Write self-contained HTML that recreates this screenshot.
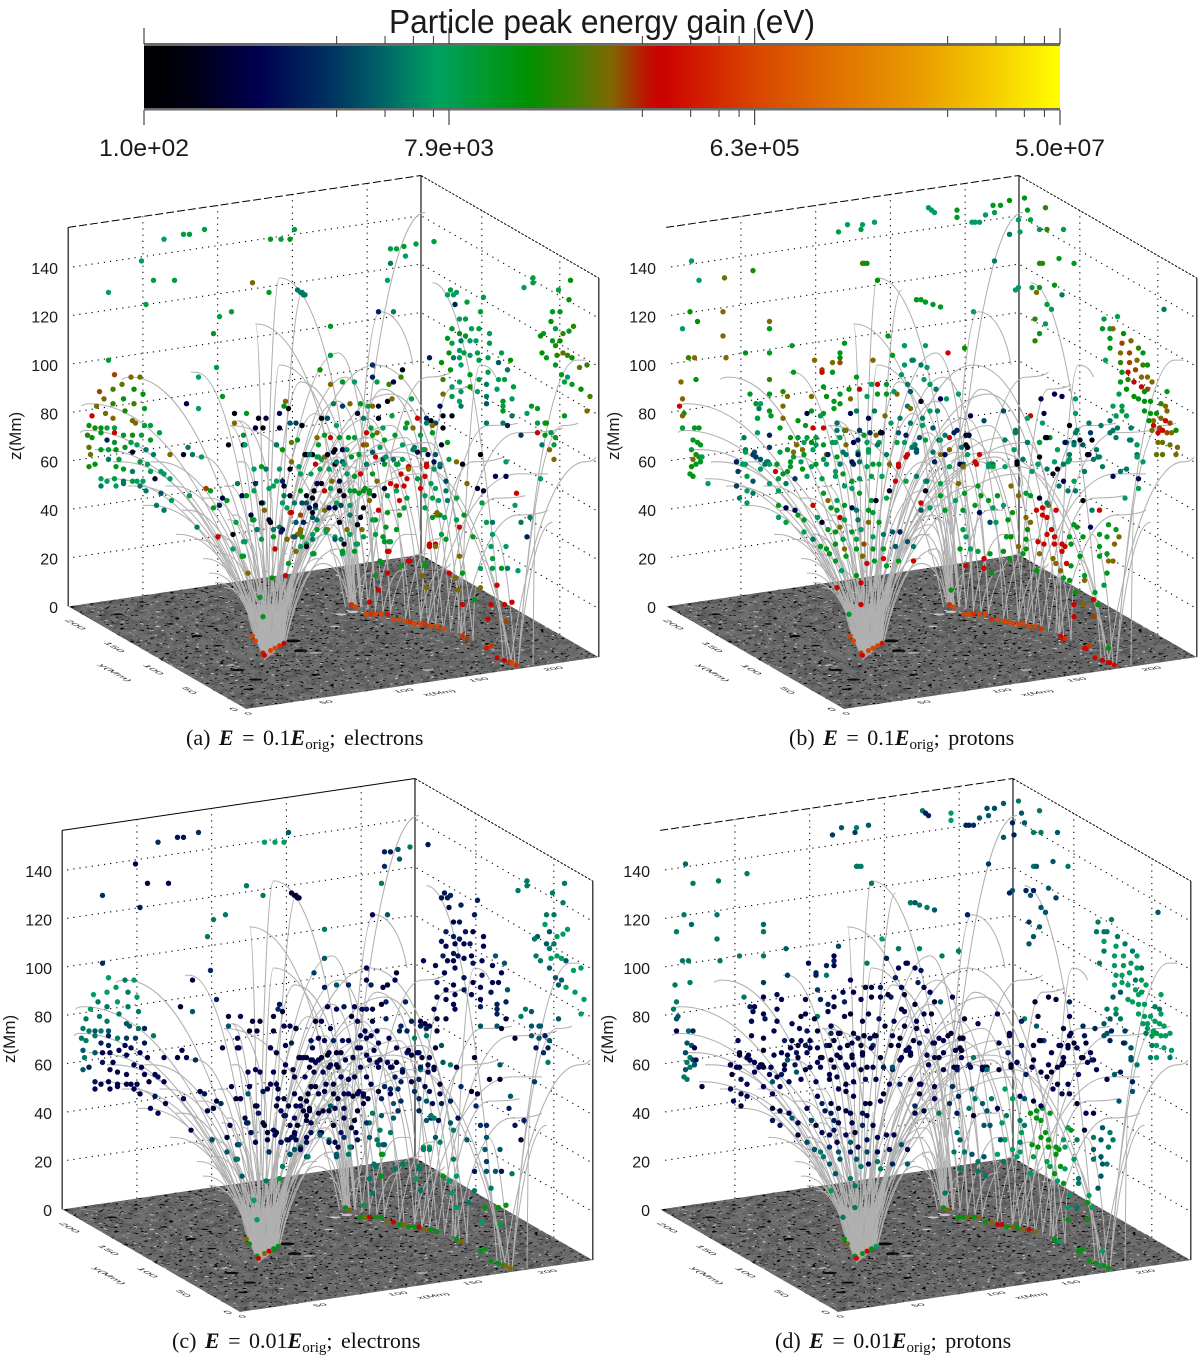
<!DOCTYPE html>
<html lang="en">
<head>
<meta charset="utf-8">
<title>Particle peak energy gain</title>
<style>
html,body{margin:0;padding:0;background:#fff;width:1200px;height:1357px;overflow:hidden}
svg{display:block}
text{font-family:"Liberation Sans",sans-serif;fill:#1a1a1a}
.cap{font-family:"Liberation Serif",serif;font-size:22px;word-spacing:3px;fill:#111}
</style>
</head>
<body>
<svg id="fig" xmlns="http://www.w3.org/2000/svg" width="1200" height="1357" viewBox="0 0 1200 1357">
<defs>
<linearGradient id="cmap" x1="0" x2="1" y1="0" y2="0"></linearGradient>
<filter id="darkSpeck" x="0" y="0" width="100%" height="100%"><feTurbulence type="fractalNoise" baseFrequency="0.2 0.6" numOctaves="2" seed="7"/><feColorMatrix type="matrix" values="0 0 0 0 0  0 0 0 0 0  0 0 0 0 0  14 0 0 0 -9.1"/></filter>
<filter id="lightSpeck" x="0" y="0" width="100%" height="100%"><feTurbulence type="fractalNoise" baseFrequency="0.2 0.6" numOctaves="2" seed="23"/><feColorMatrix type="matrix" values="0 0 0 0 .8  0 0 0 0 .8  0 0 0 0 .8  0 13 0 0 -9.2"/></filter>
<filter id="mottle" x="0" y="0" width="100%" height="100%"><feTurbulence type="fractalNoise" baseFrequency="0.09 0.2" numOctaves="3" seed="3"/><feColorMatrix type="matrix" values="0 0 0 0 0  0 0 0 0 0  0 0 0 0 0  0 0 1.6 0 -0.6"/></filter>
</defs>
<g id="colorbar">
<text x="389" y="33" font-size="33" textLength="426" lengthAdjust="spacingAndGlyphs">Particle peak energy gain (eV)</text>
<rect x="144" y="44" width="916" height="66" fill="url(#cmap)"/>
<rect x="144" y="43" width="916" height="3" fill="#6a6a6a"/>
<rect x="144" y="108" width="916" height="2.5" fill="#6a6a6a"/>
</g>
<g id="panels"></g>
<g>
<text class="cap" x="186" y="745">(a) <tspan font-weight="bold" font-style="italic">E</tspan> = 0.1<tspan font-weight="bold" font-style="italic">E</tspan><tspan font-size="15" dy="4">orig</tspan><tspan dy="-4">; electrons</tspan></text>
<text class="cap" x="789" y="745">(b) <tspan font-weight="bold" font-style="italic">E</tspan> = 0.1<tspan font-weight="bold" font-style="italic">E</tspan><tspan font-size="15" dy="4">orig</tspan><tspan dy="-4">; protons</tspan></text>
<text class="cap" x="172" y="1348">(c) <tspan font-weight="bold" font-style="italic">E</tspan> = 0.01<tspan font-weight="bold" font-style="italic">E</tspan><tspan font-size="15" dy="4">orig</tspan><tspan dy="-4">; electrons</tspan></text>
<text class="cap" x="775" y="1348">(d) <tspan font-weight="bold" font-style="italic">E</tspan> = 0.01<tspan font-weight="bold" font-style="italic">E</tspan><tspan font-size="15" dy="4">orig</tspan><tspan dy="-4">; protons</tspan></text>
</g>
</svg>
<script>
// ---------- tick values ----------
const zTicks=[0,20,40,60,80,100,120,140];
const xTicks=[0,50,100,150,200];
const yTicks=[50,100,150,200];
const xGridValues=[50,100,150,200];
const yGridValues=[50,150];
const colorbarMajor=[100,7900,630000,50000000];
const colorbarMajorLabels=["1.0e+02","7.9e+03","6.3e+05","5.0e+07"];
const colorbarMinorFractions=[0.2,0.4,0.6,0.8];
// energy scale: position along colormap (0..1) and colour
const cmapPositions=[0,0.05,0.125,0.2,0.25,0.32,0.37,0.42,0.47,0.51,0.55,0.565,0.66,0.75,0.84,0.92,1];
const cmapColors=["#000000","#000012","#000050","#003060","#005a68","#00a060","#009a30","#009000","#3f7f00","#806800","#c01000","#cc0000","#d84000","#e07000","#e89800","#f4c800","#ffff00"];
// ---------- field lines: footH, footZ, apexH, apexZ, endH, endZ (projected Mm) ----------
const archLoops=[[131,-20,170,48,190,1],[131,-20,172,60,192,1],[133,-19,175,72,195,1],[135,-18,180,85,205,0],[135,-18,185,95,215,-1],[138,-18,178,38,190,0],[141,-16,182,42,196,0],[141,-16,190,52,205,-2],[141,-16,195,64,215,-3],[141,-16,200,78,225,-4],[141,-16,210,60,235,-6],[133,-19,225,70,245,-8],[133,-19,235,55,255,-9],[131,-20,240,68,265,-12],[135,-18,215,88,262,-11],[131,-20,205,100,270,-13],[131,-20,180,105,205,0],[131,-20,141,136,195,0],[131,-20,125,117,190,0],[133,-19,141,100,195,1],[133,-19,155,93,200,1],[131,-20,108,75,185,0],[190,1,208,122,230,100],[128,30,113,77,135,45],[140,25,165,80,175,45],[150,20,180,62,190,30],[170,40,215,75,235,30],[185,20,210,90,238,50],[137,-17,172,30,188,1],[137,-17,176,34,189,0],[139,-17,185,46,200,-1],[143,-15,188,58,210,-2],[143,-15,205,50,228,-5],[136,-18,220,62,250,-9],[134,-18,200,70,240,-7],[145,-15,180,24,188,1],[145,-15,170,18,187,2]];
const leftFanLoops=[[131,-20,14,84,9,83],[131,-20,42,95,36,94],[131,-20,85,97,82,97],[131,-20,23,65,18,65],[131,-20,29,53,26,53],[133,-19,12,73,8,72],[131,-20,35,60,30,60],[131,-20,45,50,40,50],[131,-20,55,42,50,42],[135,-18,60,60,55,60],[133,-19,70,50,65,50],[131,-20,80,40,76,40],[131,-20,90,62,85,62],[135,-18,95,45,90,45],[131,-20,100,30,97,30],[131,-20,108,50,104,50],[133,-19,112,38,110,38],[135,-18,117,60,113,60],[133,-19,120,28,118,27],[133,-19,125,48,122,50],[133,-19,128,24,127,26],[135,-18,130,40,128,40],[137,-17,136,45,135,46],[139,-17,142,40,143,40],[141,-16,148,35,150,36],[141,-16,155,32,158,32],[143,-15,160,28,163,28],[134,-18,103,22,100,22],[136,-17,118,15,116,15],[138,-17,150,18,152,18],[140,-16,132,15,131,15],[142,-16,166,20,170,20],[129,-19,92,20,90,20],[127,-14,100,10,98,10],[125,-14,112,12,110,12],[144,-15,172,30,176,30],[131,-20,74,30,72,30],[132,-20,86,28,84,28],[130,-19,96,14,94,14],[133,-19,105,8,104,8],[135,-18,126,6,125,6],[137,-17,139,8,139,8],[132,-19,118,4,117,4],[139,-17,146,6,147,6],[136,-18,108,36,106,36],[134,-18,122,34,120,34],[138,-17,135,26,134,26],[140,-16,145,22,146,22],[128,-16,115,20,114,20],[126,-15,106,28,104,28]];
const rightFanLoops=[[300,-25,339,102,345,102],[300,-25,330,75,340,76],[295,-23,345,60,352,62],[310,-24,312,40,312,40],[296,-24,220,64,190,60],[296,-24,235,58,215,55],[240,-7,300,55,320,55],[245,-8,280,75,300,76],[235,-6,255,90,270,92],[250,-10,300,72,330,74],[240,-7,270,60,290,62],[255,-10,285,45,305,46],[262,-12,300,38,320,40],[262,-12,275,100,285,95],[188,1,238,163,238,163],[140,-16,157,131,157,131],[290,-21,243,134,243,134],[200,0,240,95,255,97],[195,0,215,40,225,40],[205,-1,225,30,232,30],[215,-2,235,22,240,22],[225,-5,245,28,250,30],[235,-6,250,16,255,18],[190,1,200,14,203,14],[210,-2,222,15,226,16],[298,-24,284,30,284,30],[293,-22,275,20,275,20],[300,-25,323,35,323,35],[260,-11,262,12,262,12],[270,-14,272,8,272,8],[189,1,172,42,168,44],[190,1,178,52,175,54],[191,1,183,36,181,38],[187,2,176,22,175,24],[192,0,186,25,185,26]];
// ---------- sunspots on the magnetogram: h, z, rx, ry, tone (0 dark, 1 light) ----------
const magnetogramSpots=[[150,-14,8,2.2,0],[155,-18,7,2,0],[86,-12,6,1.6,0],[33,-3,5,1.2,0],[113,-26,8,1.6,0],[68,-7,4,1.2,0],[100,-16,5,1.2,0],[125,-30,7,1.5,0],[165,-28,5,1.2,0],[200,-20,4,1,0],[240,-18,4,1,0],[120,-34,5,1.2,0],[95,-8,4,1,0],[165,-19,7,1,1],[108,-24,5,.9,1],[182,-3,6,1.4,1],[190,-2,6,1.8,1],[178,-8,5,1,1],[60,-8,3,.8,1],[150,-42,4,.8,1],[220,-34,5,.8,1],[240,-26,6,.8,1],[290,-14,4,.8,1],[60,-2,3,.7,1]];
// ---------- dense field-line bundle at the main footpoint: h, z ----------
const footBundleH=[131,122,118,146,144,137];
const footBundleZ=[-22,-9,1,1,-14,-19];
// ---------- footpoint particles: h, z, logE×10 in panels a, b, c, d ----------
const footpointParticles=[[123,-12,58,58,49,43],[125,-14,58,58,43,49],[130,-19,54,56,43,43],[131,-20,52,52,52,52],[135,-18,58,58,49,43],[138,-17,58,58,52,52],[141,-16,56,58,43,43],[144,-15,52,54,43,38],[189,1,56,56,43,43],[192,0,58,58,49,49],[199,-3,58,58,43,43],[202,-3,56,58,49,43],[205,-3,58,56,52,49],[209,-3,58,58,43,43],[213,-3,54,58,43,49],[217,-5,58,56,49,43],[221,-5,58,58,52,49],[225,-6,58,58,43,52],[228,-6,56,58,49,52],[231,-7,58,58,43,43],[235,-7,58,58,43,49],[238,-7,56,58,52,43],[242,-8,58,58,49,49],[246,-8,58,58,43,52],[250,-9,58,56,43,49],[263,-12,56,53,43,43],[266,-13,50,56,49,38],[279,-17,54,53,43,43],[282,-16,56,56,43,43],[286,-21,52,52,43,43],[291,-22,52,52,43,43],[295,-23,55,53,43,38],[299,-24,56,53,49,43],[296,-23,58,52,49,43]];
// ---------- electrons: h, z, logE×10 in panel a, logE×10 in panel c ----------
const electronsHigh=[[27,130,38,31],[49,143,38,27],[64,152,38,31],[77,154,40,29],[81,154,40,29],[91,156,40,31],[57,135,40,27],[71,135,40,27],[52,125,40,29],[27,102,41,31],[101,120,40,36],[109,122,40,36],[97,113,42,36],[99,99,40,31],[123,134,49,36],[134,130,42,36],[135,152,42,38],[142,152,40,38],[148,152,42,38],[151,156,40,34],[153,131,36,25],[155,130,36,25],[156,130,36,25],[157,129,36,25],[158,129,36,27],[87,95,38,27],[87,82,38,34],[79,84,26,25],[103,87,42,30],[215,148,40,30],[219,148,40,30],[224,149,41,34],[232,150,40,36],[244,151,40,29],[215,142,36,31],[225,145,38,34],[213,135,38,36],[207,122,30,27],[217,122,36,34],[175,116,42,36],[175,104,40,34],[168,98,44,32],[175,92,49,29],[183,93,42,34],[191,93,38,30],[203,95,30,27],[206,93,40,30],[214,92,46,27],[217,93,27,25],[222,95,46,27],[223,98,22,25],[203,100,31,27],[241,103,30,27]];
const electronsLeftLobe=[[31,96,50,38],[42,95,49,36],[48,95,48,38],[36,92,48,38],[21,89,50,38],[30,90,47,38],[44,90,44,36],[50,88,43,38],[24,86,49,36],[37,86,43,38],[19,83,49,38],[30,84,46,36],[25,80,48,36],[44,84,47,36],[51,82,42,36],[38,81,45,36],[16,79,52,36],[30,78,49,36],[43,77,48,34],[45,76,49,34],[51,75,40,36],[55,75,40,30],[61,72,40,36],[14,75,43,36],[18,74,45,36],[22,74,43,34],[26,74,40,36],[31,74,40,34],[13,71,45,36],[16,70,43,36],[22,72,42,36],[31,72,52,30],[37,71,42,36],[43,71,45,32],[49,71,40,32],[26,69,30,30],[31,68,42,30],[42,68,40,27],[55,69,42,29],[14,66,48,34],[22,65,42,34],[27,65,40,27],[32,65,43,27],[38,66,42,27],[46,67,38,27],[52,65,36,27],[68,63,49,27],[77,63,24,25],[80,66,36,27],[83,63,36,27],[89,62,38,31],[15,63,48,36],[27,61,36,29],[34,61,40,27],[43,64,24,27],[48,60,40,27],[57,63,36,27],[14,58,45,34],[18,59,43,30],[32,58,42,27],[37,57,42,27],[43,56,36,27],[53,59,38,27],[55,56,38,27],[62,56,38,27],[58,53,24,25],[64,55,38,29],[68,53,38,27],[22,50,36,27],[26,52,38,27],[31,53,40,27],[37,52,36,27],[43,52,40,27],[50,52,38,27],[22,53,38,29],[32,50,38,27],[37,51,36,27],[46,52,38,27],[48,50,36,27],[52,48,36,27],[59,42,36,27],[64,40,36,27],[62,47,34,29],[69,44,38,27]];
const electronsCore=[[111,80,23,25],[119,80,42,27],[127,78,23,25],[132,78,25,25],[125,74,26,25],[130,74,23,25],[141,74,24,25],[141,80,27,25],[147,82,22,25],[145,85,49,29],[144,83,43,31],[148,76,34,27],[156,75,23,25],[152,76,32,27],[111,76,49,34],[117,71,42,27],[107,67,23,25],[117,67,23,25],[139,67,36,25],[143,65,43,25],[149,68,48,27],[153,69,43,30],[158,63,23,25],[163,63,23,25],[167,62,40,29],[81,46,40,27],[86,33,36,27],[92,49,50,27],[97,41,42,27],[101,42,30,25],[100,29,52,33],[106,44,42,31],[110,30,23,25],[112,35,40,27],[117,27,38,31],[110,24,38,34],[116,21,42,34],[120,14,49,34],[126,32,40,29],[130,43,36,27],[135,35,23,25],[138,24,42,34],[145,13,52,40],[147,18,42,36],[152,23,38,34],[155,31,49,30],[159,26,40,34],[163,22,38,33],[141,33,36,27],[146,28,38,30],[150,29,49,30],[166,36,36,27],[172,32,40,31],[178,29,38,36],[166,51,26,25],[179,43,40,34],[159,43,34,27],[165,41,36,27],[148,39,50,29],[155,48,42,27],[137,50,38,27],[124,36,38,31],[113,51,36,27],[103,45,27,25],[95,48,42,29],[119,46,40,27],[143,52,30,27],[128,4,42,38],[130,-4,42,38],[136,12,44,36],[193,80,24,25],[197,78,36,27],[207,78,24,25],[216,79,40,30],[169,78,22,25],[173,78,33,27],[179,75,38,27],[156,75,23,25],[177,84,36,27],[183,83,32,27],[188,84,49,29],[195,84,42,27],[200,83,40,27],[203,83,49,29],[207,83,24,25],[213,85,23,25],[216,86,49,30],[229,86,40,30],[233,78,52,30],[239,78,30,27],[242,77,22,25],[248,83,28,27],[250,79,23,25],[256,79,22,25],[239,76,36,29],[245,76,33,27],[243,75,49,30],[250,74,23,25],[243,72,42,36],[235,71,40,36],[226,76,42,30],[230,74,49,30],[225,74,40,30],[218,71,42,27],[210,74,38,27],[206,72,49,27],[202,74,40,27],[199,72,52,27],[203,71,42,27],[191,70,40,27],[187,70,42,29],[181,70,42,30],[175,70,52,27],[166,70,49,29],[171,71,42,27],[167,67,42,27],[159,63,23,25],[169,61,38,27],[177,64,23,25],[183,65,26,25],[197,67,50,27],[203,64,34,27],[208,66,38,27],[211,69,42,27],[223,67,38,27],[230,65,36,29],[233,64,26,25],[238,65,49,30],[240,63,26,25],[245,63,34,27],[249,67,23,25],[253,68,42,34],[275,63,22,25],[263,59,22,25],[259,60,49,36],[254,61,40,34],[248,58,33,27],[239,58,52,36],[244,60,28,27],[227,58,52,31],[220,59,40,27],[217,61,36,27],[210,61,33,27],[205,62,52,27],[199,59,36,27],[189,62,42,27],[183,60,34,27],[178,59,23,25],[171,62,49,27],[165,59,52,27]];
const electronsCoreLower=[[139,67,36,27],[118,67,38,27],[124,57,38,27],[132,57,36,27],[129,58,42,27],[148,57,23,25],[139,52,38,27],[144,50,24,25],[134,49,38,29],[125,51,31,27],[124,48,38,34],[116,46,27,25],[119,46,42,27],[129,43,22,25],[131,40,49,29],[122,38,27,25],[123,36,42,30],[134,36,23,25],[137,32,36,25],[126,32,36,29],[143,32,27,25],[142,31,30,27],[137,29,42,27],[146,28,49,29],[138,24,52,31],[118,27,38,34],[117,21,42,36],[129,28,40,27],[144,46,36,27],[148,46,23,25],[143,43,38,25],[146,41,38,27],[149,39,52,29],[155,38,50,27],[151,43,36,25],[156,43,33,27],[159,46,23,25],[164,48,23,25],[163,45,23,25],[171,48,52,27],[175,49,38,27],[181,48,23,25],[184,46,23,25],[188,48,40,27],[194,47,42,25],[198,49,43,27],[201,47,42,29],[204,46,23,25],[161,41,27,25],[165,42,28,25],[171,40,49,27],[174,41,27,25],[178,41,27,25],[182,42,33,27],[188,42,38,27],[197,41,23,25],[201,44,49,27],[152,35,34,27],[157,35,30,25],[163,39,23,25],[163,37,34,25],[155,32,49,27],[153,30,49,29],[156,29,42,27],[166,32,42,29],[163,30,38,27],[173,32,49,27],[163,28,36,29],[159,25,23,25],[164,22,42,36],[155,25,38,34],[152,23,49,34],[151,29,34,27],[181,35,23,25],[186,32,49,29],[193,34,23,25],[196,32,49,27],[188,30,38,31],[178,28,34,29],[182,28,36,27],[184,26,23,25],[193,26,40,30],[197,29,40,29],[183,22,38,34],[188,38,36,27],[195,37,23,25],[205,36,43,36],[207,40,52,36],[213,39,42,34],[212,33,42,36],[219,32,42,36],[205,30,40,34],[211,27,42,36],[215,27,40,34],[214,23,52,40],[221,38,42,34],[224,41,40,31],[238,41,40,30],[243,37,42,34],[246,38,49,31],[251,37,38,29],[249,30,40,34],[241,26,52,40],[245,26,52,38],[238,17,42,36],[228,19,52,40],[222,17,42,36],[209,18,42,36],[162,55,38,27],[166,51,27,25],[169,51,23,25],[176,52,49,27],[181,52,27,25],[186,55,38,27],[191,54,42,27],[195,55,52,27],[203,55,42,27],[206,52,49,27],[191,48,42,27],[197,48,43,27],[201,48,42,27],[211,49,23,25],[215,51,52,30],[219,50,52,30],[224,50,52,31],[226,53,52,30],[222,55,52,29],[227,57,49,27],[233,53,40,27],[238,54,52,30],[235,49,52,31],[242,51,40,27],[245,49,38,29],[252,48,36,27],[252,52,33,25],[213,46,40,30],[219,48,38,27],[221,44,52,34],[226,45,40,31],[238,46,38,31],[247,44,38,27],[253,44,36,30],[244,57,38,27],[239,59,52,30],[248,59,36,25],[211,59,42,27],[212,62,38,25],[219,59,40,27],[223,61,38,25],[231,66,36,27],[237,65,38,27],[194,63,42,25],[199,67,49,27],[186,65,38,25],[178,65,23,25],[179,60,36,27],[184,59,38,25],[174,57,38,27],[168,57,40,25],[166,62,40,27],[173,63,23,25],[158,63,23,25],[161,63,36,27],[154,58,38,25],[155,55,38,27],[149,60,49,27],[141,57,38,27]];
const electronsRightLobe=[[253,129,38,29],[255,131,40,29],[257,129,38,30],[259,130,38,30],[277,128,40,30],[258,125,30,27],[266,126,40,30],[275,122,40,30],[261,119,38,27],[265,119,40,29],[256,115,42,30],[269,115,38,29],[274,115,40,27],[261,113,43,30],[265,112,42,30],[281,113,38,27],[253,111,42,29],[256,109,40,27],[262,110,36,27],[268,110,38,27],[272,110,38,30],[281,109,40,27],[261,106,38,29],[264,105,40,29],[273,105,40,27],[254,105,43,30],[257,103,36,27],[261,103,38,27],[268,104,38,27],[280,103,40,27],[289,105,40,34],[249,101,44,27],[255,98,43,27],[262,100,38,27],[274,102,40,29],[287,101,34,27],[295,102,44,34],[268,96,42,29],[280,97,40,29],[293,98,36,27],[250,94,46,29],[261,93,38,27],[274,94,40,27],[287,94,38,27],[256,91,38,27],[268,91,44,29],[279,92,36,27],[286,90,38,29],[291,94,40,27],[297,91,40,34],[250,88,49,27],[262,89,38,27],[273,89,38,27],[279,87,36,27],[290,85,42,30],[256,87,40,27],[261,85,38,27],[262,83,36,27],[290,83,40,30],[296,86,38,30],[290,81,42,30],[279,84,34,30],[296,79,36,27],[290,76,36,34],[279,76,36,34],[306,80,38,36],[309,83,42,36],[313,82,42,34],[293,75,30,25],[302,71,32,25],[313,72,52,34],[313,76,40,34],[318,76,42,34],[319,76,43,34],[318,71,42,34],[322,72,40,30],[325,70,42,34],[316,67,36,29],[321,65,49,31],[324,67,40,30],[324,61,49,36],[292,60,38,34]];
const electronsFarRight=[[304,132,38,36],[310,136,40,36],[310,134,40,36],[335,135,44,36],[327,131,40,36],[334,127,44,36],[323,122,42,36],[328,122,42,36],[322,118,44,38],[337,116,46,38],[334,114,42,38],[325,115,40,34],[317,113,42,34],[315,112,44,36],[330,113,46,38],[323,110,42,34],[328,110,44,36],[325,108,46,36],[316,105,44,36],[319,103,42,36],[326,104,46,38],[330,105,48,38],[333,104,46,38],[336,103,44,34],[325,100,42,34],[346,100,46,38],[341,99,48,38],[329,96,42,34],[333,95,38,34],[331,93,40,34],[336,92,42,38],[342,90,44,38],[348,87,47,38],[331,79,42,34],[346,81,49,38]];
const electronsLower=[[299,47,52,34],[285,54,26,25],[292,54,27,25],[315,53,38,32],[276,43,40,31],[298,42,38,30],[302,35,36,29],[308,37,36,30],[306,29,30,25],[279,35,40,31],[283,35,36,31],[283,30,38,34],[282,25,38,34],[292,25,38,34],[283,20,40,32],[275,16,38,29],[283,16,40,34],[289,16,42,34],[293,16,36,29],[300,15,38,36],[270,29,42,34],[264,38,42,29],[259,36,40,34],[261,33,52,36],[248,38,43,36],[252,28,42,36],[241,25,52,36],[245,25,49,36],[243,45,40,34],[246,39,49,36],[266,51,49,31],[273,49,24,25],[277,48,26,25],[259,45,40,30],[261,21,49,36],[254,14,52,43],[258,12,49,38],[263,14,42,38],[260,7,49,38],[275,8,49,36],[286,9,52,36],[271,3,42,36],[282,1,52,43],[291,1,52,43],[296,2,52,43],[263,1,52,38],[280,-5,52,38],[292,-6,50,40],[213,23,52,43],[208,19,42,36],[238,18,42,36],[227,19,52,36],[213,14,52,43],[205,13,42,36],[207,7,52,36],[201,2,52,40],[236,13,49,38],[239,8,49,36],[183,23,42,34],[191,23,42,36],[192,26,38,36],[172,31,38,34],[203,36,40,31],[210,29,42,36],[214,27,40,34]];
// ---------- protons: h, z, logE×10 in panel b, logE×10 in panel d ----------
const protonsHigh=[[17,143,39,35],[22,135,38,36],[39,136,48,36],[58,139,45,36],[115,155,40,32],[121,158,38,34],[130,156,40,32],[131,158,38,36],[139,159,38,34],[131,142,46,36],[132,142,46,36],[134,142,43,36],[141,135,44,36],[16,122,44,36],[38,122,49,36],[21,118,44,35],[11,115,38,36],[38,112,49,36],[69,118,49,35],[69,115,42,36],[15,103,46,36],[19,103,49,36],[40,103,49,36],[53,105,43,36],[69,105,42,36],[84,108,42,34],[119,109,42,33],[148,112,42,38],[159,108,38,36],[167,127,38,34],[175,165,39,36],[177,164,38,30],[179,163,38,30],[194,164,42,38],[194,161,42,38],[204,159,38,30],[206,159,38,30],[209,159,38,31],[213,162,38,34],[219,163,40,34],[218,166,42,33],[223,166,42,33],[229,168,44,34],[239,169,43,36],[253,165,46,36],[241,164,42,34],[243,160,40,34],[249,156,40,36],[254,156,46,36],[265,156,40,34],[235,160,38,30],[236,155,38,30],[229,154,36,34],[219,143,36,32],[249,142,46,36],[251,142,46,34],[262,144,42,34],[272,142,42,36],[235,132,38,34],[233,131,38,30],[244,132,40,30],[249,132,42,30],[247,130,49,34],[259,133,43,34],[264,129,36,32],[254,125,40,34],[257,123,38,34],[246,119,46,31],[253,117,38,34],[249,113,42,34],[246,110,46,34],[205,122,38,30],[199,107,44,36],[188,105,52,36],[183,124,42,34],[178,125,42,36],[173,126,42,36],[170,127,42,34],[167,127,42,36],[173,108,38,36],[159,108,38,36],[332,123,36,34],[99,102,49,27],[111,101,49,30],[116,101,50,27],[116,103,44,30],[116,105,42,27],[104,98,50,30],[104,97,52,30],[111,97,42,36],[138,102,49,36],[151,104,42,30],[165,102,38,29],[157,96,38,30],[159,100,38,27],[127,95,42,27],[85,97,42,32]];
const protonsLeftColumn=[[10,93,49,36],[20,94,43,36],[11,86,49,36],[9,83,52,36],[12,80,43,34],[11,79,49,34],[11,74,40,27],[19,74,42,35],[22,74,42,30],[18,69,42,34],[21,68,42,34],[23,67,42,27],[17,65,40,33],[20,63,46,36],[22,62,42,33],[18,61,49,36],[23,60,42,34],[17,58,44,34],[20,59,42,36],[16,55,42,36],[18,54,43,36],[24,62,40,29],[28,51,38,25]];
const protonsLeftCore=[[56,88,42,36],[69,94,46,32],[69,88,42,27],[78,89,46,28],[81,87,49,27],[60,84,42,30],[63,84,38,27],[62,82,36,27],[69,81,42,27],[78,83,49,27],[61,78,38,25],[61,78,40,28],[70,79,42,29],[78,78,49,27],[52,70,36,27],[53,65,36,27],[59,64,34,27],[69,66,32,25],[76,64,40,27],[85,64,49,27],[47,60,34,25],[53,59,38,27],[67,60,38,27],[74,59,42,27],[83,58,42,27],[47,60,30,27],[53,64,40,25],[51,59,38,27],[48,56,32,25],[47,50,32,27],[58,63,32,27],[60,62,32,27],[63,61,34,27],[68,60,36,25],[66,59,36,27],[54,54,40,29],[58,52,34,27],[54,48,38,27],[49,45,36,27],[54,43,38,25],[58,47,36,27],[69,51,38,27],[75,48,40,27],[80,51,36,27],[75,42,42,25],[80,41,27,25],[86,40,28,27],[88,38,42,34],[75,37,38,29],[80,35,40,29],[92,36,42,27],[92,31,38,25],[98,28,36,33],[103,25,42,30],[109,22,43,36],[113,19,42,34],[117,15,38,34],[127,13,43,36],[114,8,52,40],[130,10,52,36],[130,1,52,36],[122,-3,42,36],[63,57,38,27],[69,59,38,25],[73,56,52,27],[75,53,40,34],[78,55,42,27],[81,56,42,29],[83,60,42,25],[86,53,32,27],[91,57,43,34],[94,54,38,27],[97,58,38,25],[100,59,42,29],[105,61,40,27],[81,65,42,27],[85,62,40,34],[90,60,38,29],[87,67,49,27],[91,65,49,29],[97,68,44,30],[94,70,40,27],[88,70,42,25],[98,65,38,27],[105,67,42,27],[107,63,49,25],[111,68,40,31],[116,70,38,25],[119,73,38,27],[125,68,26,25],[132,71,42,29],[136,72,40,27],[140,71,49,29],[144,72,26,27],[142,68,38,31],[135,65,40,25],[128,64,38,27],[120,63,36,25],[114,62,42,25],[124,60,29,25],[129,60,36,27],[138,59,42,25],[142,59,40,27],[149,59,49,30],[155,58,52,30],[160,62,40,25],[167,64,38,27],[159,68,38,25],[166,67,36,27],[173,69,40,29]];
const protonsMidCore=[[104,53,40,27],[113,56,38,27],[118,55,42,27],[124,52,42,25],[129,53,38,27],[137,54,40,29],[144,54,38,27],[149,48,24,25],[153,52,52,27],[160,52,40,29],[167,54,36,25],[173,52,38,27],[129,47,42,27],[124,49,38,25],[119,50,38,27],[113,54,38,25],[105,47,42,27],[108,44,49,30],[114,44,38,27],[98,42,52,27],[110,41,42,29],[119,42,42,25],[124,41,28,25],[127,40,36,27],[137,44,42,27],[140,44,24,25],[147,45,40,27],[135,40,42,29],[138,39,40,27],[142,35,42,25],[135,35,49,31],[128,36,36,27],[114,40,42,29],[116,37,52,30],[119,36,40,27],[101,37,38,33],[104,35,24,25],[108,32,42,27],[113,31,43,27],[116,33,49,29],[124,31,42,27],[130,32,38,25],[127,28,40,34],[138,29,38,29],[132,26,50,27],[145,30,36,27],[151,31,34,27],[156,31,30,27],[161,27,34,34],[165,25,36,27],[113,26,43,31],[107,24,43,36],[103,25,42,34],[118,28,40,27],[119,24,49,34],[127,24,42,29],[138,24,42,33],[145,24,42,27],[153,25,34,29],[165,19,52,34],[155,19,42,30],[145,20,52,36],[139,19,42,27],[131,21,49,34],[134,18,52,36],[120,21,42,34],[147,17,42,36],[105,91,42,32],[116,88,42,27],[122,90,43,27],[129,90,52,27],[137,92,38,25],[141,92,52,27],[147,92,42,30],[154,88,49,30],[97,87,49,27],[107,87,44,30],[112,85,42,30],[116,84,42,25],[123,86,49,30],[134,87,38,27],[141,88,42,25],[147,88,42,27],[152,89,38,25],[161,83,36,25],[112,82,42,27],[105,80,42,36],[97,81,42,27],[88,77,43,27],[94,80,25,25],[103,79,40,25],[114,76,36,27],[123,80,28,25],[127,81,36,25],[135,78,28,25],[139,81,36,27],[146,79,49,29],[156,78,36,27],[163,76,36,25],[93,75,42,27],[98,74,52,29],[105,74,52,25],[114,73,36,31],[120,73,49,25],[129,73,32,27],[136,72,30,25],[143,72,23,25],[150,76,38,25],[155,72,34,27],[76,74,42,27],[83,70,44,30],[69,71,30,25],[61,72,38,27],[92,68,38,25],[100,70,40,27],[113,68,38,25],[120,67,49,27],[128,69,30,27],[134,68,38,25],[141,67,36,27],[154,68,40,25],[164,66,36,27],[92,63,42,25],[100,67,38,27],[108,63,30,25],[118,64,36,27],[128,63,29,25],[135,64,38,27],[147,63,36,25],[155,59,52,34],[161,63,52,27],[167,64,34,25],[107,59,38,27],[116,59,36,25],[125,59,30,27],[134,58,38,25]];
const protonsRightCore=[[259,88,27,25],[264,87,27,25],[273,86,38,30],[273,80,38,27],[250,86,27,25],[252,80,26,25],[243,79,52,36],[241,78,38,30],[251,76,38,34],[269,75,23,25],[274,73,36,27],[253,70,23,25],[256,70,42,33],[249,68,49,34],[267,68,36,27],[272,68,34,25],[276,69,23,25],[278,67,34,27],[261,65,38,27],[249,62,23,25],[269,63,36,27],[282,63,23,25],[287,65,36,27],[289,62,38,27],[259,60,38,27],[268,60,38,25],[248,59,34,27],[234,59,23,25],[238,61,34,27],[232,65,38,29],[226,69,36,27],[241,68,40,29],[233,73,36,27],[225,81,33,27],[212,77,33,27],[203,79,27,25],[195,88,38,27],[187,86,38,34],[183,86,27,25],[180,90,36,27],[176,92,38,27],[172,94,38,30],[170,100,36,27],[174,99,38,29],[164,102,36,27],[163,89,34,25],[161,92,36,27],[170,85,23,25],[163,82,49,27],[181,81,36,25],[176,81,38,27],[171,78,36,27],[171,75,38,25],[178,74,34,27],[194,73,30,25],[186,71,36,27],[182,69,34,27],[200,71,23,25],[202,71,23,25],[189,70,52,27],[192,72,30,25],[200,67,23,25],[197,66,36,27],[201,66,34,27],[189,65,49,27],[209,63,52,36],[201,63,38,27],[183,63,49,25],[186,63,28,25],[178,64,36,27],[169,70,34,25],[166,67,36,27],[160,71,30,25],[167,65,34,27],[160,62,52,27],[206,60,52,31],[198,59,34,27],[215,59,38,27],[218,59,36,25],[226,58,38,25],[207,59,52,27],[215,58,38,27],[218,58,40,36],[201,66,23,25],[202,71,26,25],[183,69,38,27],[179,60,30,27],[173,48,23,25],[170,43,52,31],[174,52,36,27],[183,51,40,27],[196,59,27,25],[189,58,38,27],[198,58,49,29],[195,51,49,31],[199,47,42,30],[183,46,42,27],[193,44,38,31],[208,50,42,34],[206,42,42,36],[210,46,43,36],[215,44,42,34],[221,46,43,36],[209,39,27,25],[198,40,42,29],[218,41,38,34],[225,42,38,27],[186,40,42,36],[176,41,38,25],[170,40,34,27],[216,35,33,34],[220,35,38,34],[198,32,40,36],[200,29,38,34],[228,36,43,38],[231,39,43,36],[196,24,43,36],[203,24,38,36],[208,23,40,34],[216,22,43,34],[225,23,43,38],[230,29,44,38],[227,29,42,34],[229,20,43,36],[212,20,52,36],[200,17,52,36],[212,16,52,36],[217,14,43,36],[190,7,43,36]];
const protonsRedPatch=[[235,46,49,38],[230,50,49,38],[240,47,40,27],[243,46,42,34],[240,37,49,36],[243,35,49,36],[241,32,44,38],[240,28,43,36],[235,25,49,38],[240,24,43,38],[238,22,42,38],[247,40,52,43],[251,38,52,43],[254,37,52,43],[251,41,52,43],[255,42,49,38],[260,40,52,43],[249,45,24,25],[257,32,52,43],[254,30,52,43],[248,27,52,43],[252,26,52,43],[259,29,52,43],[259,26,52,43],[264,26,52,43],[266,25,52,43],[249,22,49,40],[258,20,49,40],[264,23,52,43],[260,18,49,40],[267,18,52,43],[247,15,43,38],[263,15,49,43],[270,17,43,38],[279,13,42,36],[265,12,42,38],[269,11,43,43],[279,11,49,36],[273,6,43,38],[286,6,42,38],[272,1,52,38],[278,1,49,36],[288,1,43,38],[285,3,52,43],[272,-4,52,43],[285,-4,50,43],[265,-13,52,43],[280,-17,52,43],[295,-17,44,38],[272,34,42,38],[274,33,43,43],[278,29,43,36],[276,21,43,38],[269,29,42,38],[270,26,43,38]];
const protonsRightLobe=[[296,115,40,36],[301,120,39,36],[292,119,40,36],[291,115,42,36],[298,115,49,36],[305,113,44,36],[310,110,49,36],[296,111,42,38],[304,109,50,38],[296,107,43,36],[315,107,46,36],[318,105,42,38],[303,105,49,38],[309,105,50,38],[293,102,38,36],[303,101,46,38],[309,101,50,40],[314,102,49,38],[318,100,46,38],[321,100,43,36],[304,97,43,38],[308,97,52,38],[313,98,50,38],[317,95,49,36],[321,95,49,40],[324,93,49,38],[303,93,42,38],[308,94,45,38],[312,93,52,38],[317,91,52,38],[321,90,50,40],[319,89,44,38],[334,89,42,38],[307,90,44,34],[302,88,40,34],[312,87,44,38],[315,86,43,38],[319,85,43,38],[323,85,43,38],[330,84,46,36],[333,83,49,36],[298,83,38,36],[304,83,40,38],[319,81,43,38],[323,80,43,38],[327,80,43,38],[334,81,49,38],[304,81,40,36],[307,79,40,36],[300,79,40,34],[322,77,44,38],[325,77,49,38],[330,78,49,38],[333,77,52,38],[336,76,50,38],[325,75,52,38],[329,74,50,38],[331,73,52,40],[328,72,52,40],[334,72,50,38],[337,72,49,38],[340,73,44,38],[324,73,49,36],[296,77,36,34],[301,74,36,30],[310,74,36,32],[290,75,36,30],[282,76,36,31],[298,73,36,34],[296,72,36,34],[283,72,32,29],[328,68,49,36],[331,68,48,38],[336,67,48,38],[341,66,49,38],[327,63,48,36],[331,63,48,38],[340,63,49,36],[314,67,36,34],[314,63,36,34],[310,69,36,34],[300,70,36,30],[295,34,42,34],[300,32,42,36],[302,29,49,36],[289,30,42,36],[294,29,42,34],[299,26,49,36],[289,25,42,34],[294,22,42,34],[289,21,42,36],[295,19,49,34],[298,19,49,36],[294,14,42,34],[292,9,40,34],[289,40,52,27],[284,40,36,27],[283,33,28,25],[306,45,38,34],[315,49,38,34],[315,53,28,30],[303,56,36,34],[298,54,28,27],[307,57,36,30],[314,62,38,34],[318,60,38,36],[309,69,36,30],[314,67,38,34],[285,61,36,27],[291,58,36,27],[279,56,36,27],[272,52,38,27],[265,52,27,25],[262,50,36,27],[258,55,23,25],[254,57,36,25],[248,59,38,27],[265,59,36,27],[269,61,38,27],[249,68,40,27],[261,57,23,25],[254,70,23,25],[266,68,28,27],[272,67,36,27],[273,72,36,27],[284,69,23,25],[281,63,24,25],[288,62,36,29],[278,44,23,25],[273,48,36,27],[268,48,36,27],[254,43,36,27],[238,61,36,27],[244,56,38,30],[241,68,36,27],[234,60,23,25],[233,72,36,27]];
// ---------- panel layout ----------
const electronSets=[electronsHigh,electronsLeftLobe,electronsCore,electronsCoreLower,electronsRightLobe,electronsFarRight,electronsLower];
const protonSets=[protonsHigh,protonsLeftColumn,protonsLeftCore,protonsMidCore,protonsRightCore,protonsRedPatch,protonsRightLobe];
const panels=[
 {id:"a",dx:0,dy:0,axis:true,sets:electronSets,ei:2,fi:2},
 {id:"b",dx:598,dy:0,axis:false,sets:protonSets,ei:2,fi:3},
 {id:"c",dx:-6,dy:603,axis:true,sets:electronSets,ei:3,fi:4},
 {id:"d",dx:592,dy:603,axis:false,sets:protonSets,ei:3,fi:5}
];
const NS="http://www.w3.org/2000/svg";
const X_MAX=236,Y_MAX=228,Z_MAX=156.6;
function mk(tag,attrs,parent){const e=document.createElementNS(NS,tag);for(const k in attrs)e.setAttribute(k,attrs[k]);if(parent)parent.appendChild(e);return e;}
// colour axis
const LOG_MIN=2,LOG_MAX=Math.log10(5e7);
function colorFrac(logE){return Math.max(0,Math.min(1,(logE-LOG_MIN)/(LOG_MAX-LOG_MIN)));}
function hexToRgb(h){return [parseInt(h.slice(1,3),16),parseInt(h.slice(3,5),16),parseInt(h.slice(5,7),16)];}
function energyColor(logE){const f=colorFrac(logE);let i=0;while(i<cmapPositions.length-2&&f>cmapPositions[i+1])i++;const t=(f-cmapPositions[i])/(cmapPositions[i+1]-cmapPositions[i]);const a=hexToRgb(cmapColors[i]),b=hexToRgb(cmapColors[i+1]);return "rgb("+a.map((v,k)=>Math.round(v+(b[k]-v)*t)).join(",")+")";}
// colourbar
const grad=document.getElementById("cmap");
cmapPositions.forEach((p,i)=>{mk("stop",{offset:p,"stop-color":cmapColors[i]},grad);});
function barX(v){return 144+916*colorFrac(Math.log10(v));}
const bar=document.getElementById("colorbar");
colorbarMajor.forEach((v,i)=>{
 const x=barX(v);
 const t1=mk("line",{x1:x,x2:x,y1:28,y2:44,stroke:"#222","stroke-width":1},bar);
 
 
 const t2=mk("line",{x1:x,x2:x,y1:110,y2:125,stroke:"#222","stroke-width":1},bar);
 
 
 const lab=mk("text",{x:x-45,y:156,"font-size":24,textLength:90,lengthAdjust:"spacingAndGlyphs"},bar);
 lab.textContent=colorbarMajorLabels[i];
 
 
 if(i>0)colorbarMinorFractions.forEach(fr=>{
  const mx=barX(v*fr);
  const m1=mk("line",{x1:mx,x2:mx,y1:36,y2:44,stroke:"#333","stroke-width":1},bar);
  
  
  const m2=mk("line",{x1:mx,x2:mx,y1:110,y2:117,stroke:"#333","stroke-width":1},bar);
  
  
 });
});
// 3-D axis functions (panel-local pixels)
function fx(x,y){return 246+1.495*x-0.78*y;}
function fy(x,y,z){return 709-0.22*x-0.45*y-2.42*z;}
// projected-plane axis functions
function sx(h){return 68+1.5*h;}
function sy(z){return 607-2.42*z;}
function loopPath(l){
 const [fh,fz,ah,az,eh,ez]=l;
 const dh=ah-fh,dz=az-fz;
 let d="M"+sx(fh)+" "+sy(fz)+"C"+sx(fh+.2*dh)+" "+sy(fz+.5*dz)+" "+sx(ah-.45*dh)+" "+sy(az)+" "+sx(ah)+" "+sy(az);
 if(eh!==ah||ez!==az){const g=eh-ah;d+="C"+sx(ah+.5*g)+" "+sy(az)+" "+sx(eh-.15*g)+" "+sy(ez+.55*(az-ez))+" "+sx(eh)+" "+sy(ez);}
 return d;
}
const root=document.getElementById("panels");
panels.forEach(p=>{
 const g=mk("g",{transform:"translate("+p.dx+" "+p.dy+")"},root);
 
 
 const grid={stroke:"#000","stroke-width":1.1,"stroke-dasharray":"1.2 5",fill:"none"};
 // walls grid
 zTicks.slice(1).forEach(z=>{
  const a=mk("path",Object.assign({d:"M"+(fx(0,Y_MAX)+5)+" "+(fy(0,Y_MAX,z)-0.7)+"L"+fx(X_MAX,Y_MAX)+" "+fy(X_MAX,Y_MAX,z)+"L"+fx(X_MAX,0)+" "+fy(X_MAX,0,z)},grid),g);
  
  
 });
 xGridValues.forEach(x=>{
  const a=mk("line",Object.assign({x1:fx(x,Y_MAX),x2:fx(x,Y_MAX),y1:fy(x,Y_MAX,0),y2:fy(x,Y_MAX,Z_MAX)},grid),g);
  
  
 });
 yGridValues.forEach(y=>{
  const a=mk("line",Object.assign({x1:fx(X_MAX,y),x2:fx(X_MAX,y),y1:fy(X_MAX,y,0),y2:fy(X_MAX,y,Z_MAX)},grid),g);
  
  
 });
 // box edges
 const topL=mk("line",{x1:fx(0,Y_MAX),y1:fy(0,Y_MAX,Z_MAX),x2:fx(X_MAX,Y_MAX),y2:fy(X_MAX,Y_MAX,Z_MAX),stroke:"#000","stroke-width":1,"stroke-dasharray":p.axis&&p.id==="c"?"none":"8 3"},g);
 
 
 const topR=mk("line",{x1:fx(X_MAX,Y_MAX),y1:fy(X_MAX,Y_MAX,Z_MAX),x2:fx(X_MAX,0),y2:fy(X_MAX,0,Z_MAX),stroke:"#000","stroke-width":1,"stroke-dasharray":"2.5 1.5"},g);
 
 
 const back=mk("line",{x1:fx(X_MAX,Y_MAX),y1:fy(X_MAX,Y_MAX,0),x2:fx(X_MAX,Y_MAX),y2:fy(X_MAX,Y_MAX,Z_MAX),stroke:"#000","stroke-width":1.1},g);
 
 
 const right=mk("line",{x1:fx(X_MAX,0),y1:fy(X_MAX,0,0),x2:fx(X_MAX,0),y2:fy(X_MAX,0,Z_MAX),stroke:"#000","stroke-width":1.1},g);
 
 
 if(p.axis){
  const ax=mk("line",{x1:fx(0,Y_MAX),y1:fy(0,Y_MAX,0),x2:fx(0,Y_MAX),y2:fy(0,Y_MAX,Z_MAX),stroke:"#000","stroke-width":1.1},g);
  
  
 }
 // floor
 const pts=[[0,0],[X_MAX,0],[X_MAX,Y_MAX],[0,Y_MAX]].map(c=>fx(c[0],c[1])+","+fy(c[0],c[1],0)).join(" ");
 const cp=mk("clipPath",{id:"floorClip"+p.id},g);
 mk("polygon",{points:pts},cp);
 const floor=mk("g",{"clip-path":"url(#floorClip"+p.id+")"},g);
 
 
 mk("polygon",{points:pts,fill:"#707070"},floor);
 mk("rect",{x:60,y:550,width:550,height:170,filter:"url(#mottle)",opacity:.35},floor);
 mk("rect",{x:60,y:550,width:550,height:170,filter:"url(#darkSpeck)"},floor);
 mk("rect",{x:60,y:550,width:550,height:170,filter:"url(#lightSpeck)",opacity:.8},floor);
 magnetogramSpots.forEach(s=>{
  const e=mk("ellipse",{cx:sx(s[0]),cy:sy(s[1]),rx:s[2]*0.95,ry:s[3]*0.7,fill:s[4]?"#c8c8c8":"#0b0b0b"},floor);
  
  
 });
 // z labels
 zTicks.forEach(z=>{
  const t=mk("text",{x:58,y:fy(0,Y_MAX,z)+6.5,"font-size":16,"text-anchor":"end"},g);
  t.textContent=z;
  
  
 });
 const zt=mk("text",{transform:"translate(21 460) rotate(-90)","font-size":17},g);
 zt.textContent="z(Mm)";
 
 
 // floor labels
 const xm=(e,f)=>"matrix(.85 -.125 .42 .24 "+e+" "+f+")";
 xTicks.forEach(x=>{
  const t=mk("text",{transform:xm(fx(x,0)+1,fy(x,0,0)+6),"font-size":13,fill:"#333"},g);
  t.textContent=x;
  
  
 });
 const xt=mk("text",{transform:xm(fx(122,0)-3,fy(122,0,0)+14),"font-size":13},g);
 xt.textContent="x(Mm)";
 
 
 const ym=(e,f)=>"matrix(.8 .46 -.62 .09 "+e+" "+f+")";
 const y0=mk("text",{transform:ym(fx(0,0)-18,fy(0,0,0)-1),"font-size":13},g);
 y0.textContent="0";
 
 
 yTicks.forEach(y=>{
  const t=mk("text",{transform:ym(fx(0,y)-26,fy(0,y,0)+1),"font-size":13},g);
  t.textContent=y;
  
  
 });
 const yt=mk("text",{transform:ym(fx(0,145)-35,fy(0,145,0)+21),"font-size":13},g);
 yt.textContent="y(Mm)";
 
 
 // dense footpoint bundle
 const bundle=mk("polygon",{points:footBundleH.map((h,i)=>sx(h)+","+sy(footBundleZ[i])).join(" "),fill:"#b4b4b4",opacity:.8},g);
 
 
 // field lines
 const lines=mk("g",{fill:"none",stroke:"#b0b0b0","stroke-width":1.05},g);
 
 
 [archLoops,leftFanLoops,rightFanLoops].forEach(set=>set.forEach(l=>{
  const e=mk("path",{d:loopPath(l)},lines);
  
  
 }));
 // particles
 const dots=mk("g",{},g);
 
 
 p.sets.forEach(set=>set.forEach(r=>{
  const c=mk("circle",{cx:sx(r[0]),cy:sy(r[1]),r:2.7,fill:energyColor(r[p.ei]/10)},dots);
  
  
 }));
 footpointParticles.forEach(r=>{
  const c=mk("circle",{cx:sx(r[0]),cy:sy(r[1]),r:2.5,fill:energyColor(r[p.fi]/10)},dots);
  
  
 });
});
</script>
</body>
</html>
